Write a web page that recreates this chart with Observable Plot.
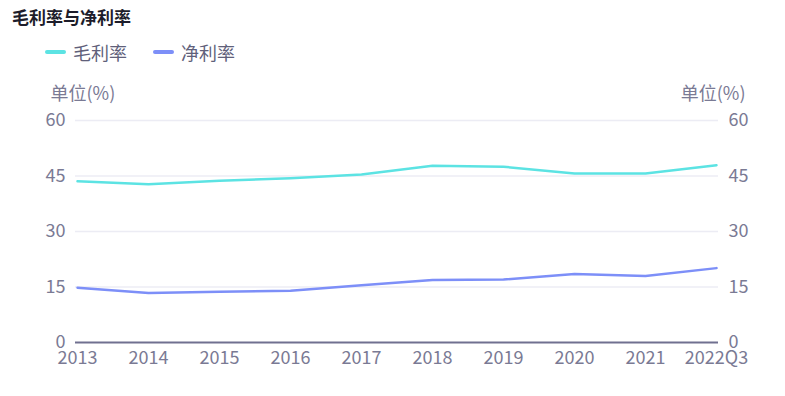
<!DOCTYPE html>
<html><head><meta charset="utf-8">
<script src="https://cdn.jsdelivr.net/npm/d3@7"></script>
<script src="https://cdn.jsdelivr.net/npm/@observablehq/plot@0.6"></script>
<style>
body{margin:0;background:#fff;font-family:"Noto Sans CJK SC","Noto Sans",sans-serif;}
#wrap{position:relative;width:785px;height:396px;overflow:hidden;}
#title{position:absolute;left:12px;top:5px;font-size:17px;font-weight:bold;color:#1d1d2b;line-height:24px;}
#legend{position:absolute;left:45px;top:39px;display:flex;align-items:center;font-size:18px;color:#60607a;line-height:26px;}
.sw{display:inline-block;width:21px;height:4px;border-radius:2px;margin-right:7px;}
.it{display:flex;align-items:center;margin-right:26px;}
#chart{position:absolute;left:0;top:75px;}
</style></head>
<body><div id="wrap">
<div id="title">毛利率与净利率</div>
<div id="legend"></div>
<div id="chart"></div>
</div>
<script>
const categories = ["2013","2014","2015","2016","2017","2018","2019","2020","2021","2022Q3"];
const grossMargin = [43.6, 42.8, 43.7, 44.4, 45.4, 47.8, 47.5, 45.7, 45.7, 47.9];
const netMargin = [14.8, 13.4, 13.7, 14.0, 15.5, 16.9, 17.0, 18.5, 18.0, 20.1];
const seriesNames = ["毛利率","净利率"];
const colors = ["#5ce3e3","#7d8ff8"];
const yTicks = [0,15,30,45,60];
const unitLabel = "单位(%)";

const data = [];
categories.forEach((c,i)=>{
  data.push({cat:c, s:seriesNames[0], v:grossMargin[i]});
  data.push({cat:c, s:seriesNames[1], v:netMargin[i]});
});

const lg = document.getElementById("legend");
seriesNames.forEach((n,i)=>{
  const d = document.createElement("div"); d.className="it";
  d.innerHTML = `<span class="sw" style="background:${colors[i]}"></span><span>${n}</span>`;
  lg.appendChild(d);
});

const tickColor = "#7a7a94";
const chart = Plot.plot({
  width:785, height:321,
  marginTop:45, marginBottom:54, marginLeft:75, marginRight:67,
  style:{fontFamily:'"Noto Sans CJK SC","Noto Sans",sans-serif', fontSize:"18px", color:tickColor, background:"#fff"},
  x:{type:"point", domain:categories, padding:0},
  y:{domain:[0,60]},
  color:{domain:seriesNames, range:colors},
  marks:[
    Plot.ruleY(yTicks.filter(t=>t>0), {stroke:"#ececf4", strokeWidth:1.5}),
    Plot.axisY(yTicks, {anchor:"left", tickSize:0, tickPadding:10, label:null, fontSize:18}),
    Plot.axisY(yTicks, {anchor:"right", tickSize:0, tickPadding:10, label:null, fontSize:18}),
    Plot.axisX(categories, {tickSize:0, tickPadding:9, label:null, fontSize:18}),
    Plot.text([unitLabel], {frameAnchor:"top-left", dx:-25, dy:-33, textAnchor:"start", fontSize:18, fill:tickColor}),
    Plot.text([unitLabel], {frameAnchor:"top-right", dx:27, dy:-33, textAnchor:"end", fontSize:18, fill:tickColor}),
    Plot.line(data, {x:"cat", y:"v", stroke:"s", strokeWidth:2.5, curve:"linear"}),
    Plot.ruleY([0], {stroke:"#707090", strokeWidth:2})
  ]
});
document.getElementById("chart").appendChild(chart);
</script></body></html>
